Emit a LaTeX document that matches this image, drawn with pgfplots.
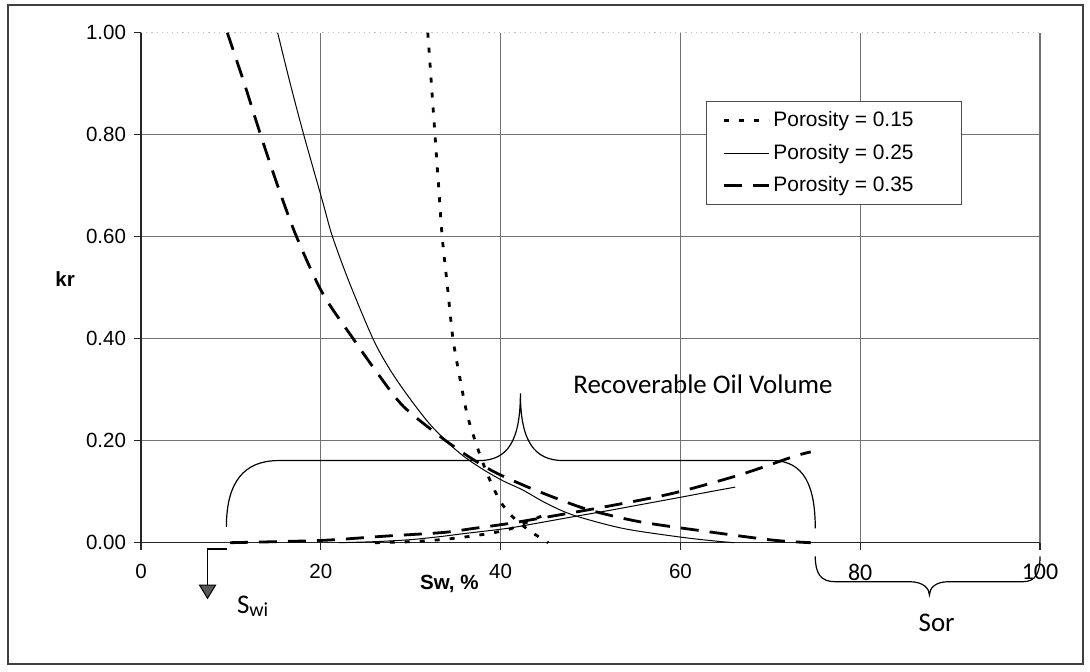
\documentclass[border=0pt]{standalone}
\usepackage{pgfplots}
\pgfplotsset{compat=1.18}
\usepackage{fontspec}
\setmainfont{Liberation Sans}
\newfontfamily\calibri{Carlito}

% oil relative permeability curves (kro) for three porosities
\pgfplotstableread{
x y
31.9 1.000
32.3 0.900
32.7 0.800
33.1 0.700
33.5 0.600
34.1 0.500
34.7 0.400
35.5 0.320
36.3 0.250
37.2 0.198
38.0 0.158
39.0 0.115
40.0 0.080
41.0 0.057
42.0 0.040
43.5 0.020
45.3 0.000
}\kroA
\pgfplotstableread{
x y
15.2 1.000
16.6 0.900
18.1 0.800
20.2 0.669
21.3 0.600
23.2 0.509
25.8 0.400
27.6 0.342
29.6 0.290
32.0 0.235
34.2 0.195
36.0 0.168
38.1 0.143
40.3 0.121
42.5 0.103
45.0 0.078
48.1 0.054
53.6 0.028
60.0 0.011
64.0 0.003
66.0 0.000
}\kroB
\pgfplotstableread{
x y
9.6 1.000
11.5 0.900
13.3 0.800
15.2 0.700
17.3 0.600
20.2 0.489
23.6 0.400
26.4 0.330
29.2 0.267
33.3 0.208
35.5 0.180
37.4 0.158
39.6 0.136
42.9 0.110
46.2 0.087
49.9 0.064
55.5 0.041
62.9 0.022
70.3 0.005
74.5 0.000
}\kroC
% water relative permeability curves (krw)
\pgfplotstableread{
x y
26.0 0.000
30.0 0.002
34.0 0.007
38.0 0.016
40.7 0.025
42.2 0.035
44.0 0.048
45.3 0.058
}\krwA
\pgfplotstableread{
x y
22.0 0.000
26.0 0.002
30.0 0.006
33.3 0.012
36.0 0.018
40.7 0.028
44.0 0.038
48.1 0.051
52.0 0.063
56.0 0.076
60.0 0.089
63.0 0.099
66.1 0.109
}\krwB
\pgfplotstableread{
x y
9.9 0.000
15.0 0.002
20.7 0.005
27.3 0.013
33.6 0.020
37.0 0.028
40.7 0.037
44.4 0.048
51.8 0.071
59.2 0.097
66.6 0.133
72.6 0.169
74.5 0.178
}\krwC

\begin{document}
\begin{tikzpicture}
\begin{axis}[
  scale only axis, width=449.5bp, height=255bp,
  xmin=0, xmax=100, ymin=0, ymax=1,
  clip=false,
  axis lines*=left,
  axis line style={black!85, line width=0.6bp},
  xtick={0,20,40,60,80,100},
  xticklabels={0,20,40,60,{\calibri\fontsize{12}{14}\selectfont 80},{\calibri\fontsize{12}{14}\selectfont 100}},
  ytick={0,0.2,0.4,0.6,0.8},
  yticklabels={0.00,0.20,0.40,0.60,0.80},
  extra y ticks={1}, extra y tick labels={1.00},
  extra y tick style={major grid style={black!25, dotted, line width=0.5bp}},
  xmajorgrids, ymajorgrids,
  major grid style={black!55, line width=0.6bp},
  tick align=outside, major tick length=3.5bp,
  tick style={black!85, line width=0.6bp},
  ticklabel style={font=\fontsize{10.3}{12}\selectfont},
  xticklabel shift=3.5bp, yticklabel shift=0.5bp,
  legend style={at={(rel axis cs:0.6285,0.866)}, anchor=north west,
    draw=black!70, line width=0.6bp, inner xsep=7.8bp, inner ysep=4bp,
    font=\fontsize{10.5}{12.5}\selectfont, row sep=5.2bp,
    nodes={inner xsep=1.7bp, inner ysep=1bp}},
  legend cell align=left,
  legend image code/.code={\draw[#1] (0bp,0bp) -- (22.5bp,0bp);},
]
\addplot[black, line width=1.4bp, dash pattern=on 2.5bp off 5bp, smooth] table {\kroA};
\addlegendentry{Porosity = 0.15\hspace*{14.3bp}}
\addplot[black, line width=0.5bp, smooth] table {\kroB};
\addlegendentry{Porosity = 0.25\hspace*{14.3bp}}
\addplot[black, line width=1.4bp, dash pattern=on 9bp off 5.5bp, smooth] table {\kroC};
\addlegendentry{Porosity = 0.35\hspace*{14.3bp}}
\addplot[black, line width=1.4bp, dash pattern=on 2.5bp off 5bp, smooth, forget plot] table {\krwA};
\addplot[black, line width=0.5bp, smooth, forget plot] table {\krwB};
\addplot[black, line width=1.4bp, dash pattern=on 9bp off 5.5bp, smooth, forget plot] table {\krwC};

% axis titles
\node[anchor=base west, inner sep=0, font=\fontsize{10.3}{12}\selectfont\bfseries]
  at (axis cs:-9.57,0.502) {kr};
\node[anchor=center, inner sep=0, font=\fontsize{10.3}{12}\selectfont\bfseries]
  at (axis cs:34.3,-0.081) {Sw, \%};

% brace spanning the recoverable oil range
\draw[black, line width=0.6bp]
  (axis cs:9.5,0.031) .. controls (axis cs:9.5,0.12) and (axis cs:11.5,0.161) .. (axis cs:15.3,0.161)
  -- (axis cs:37.6,0.161)
  .. controls (axis cs:40.8,0.161) and (axis cs:42.2,0.2) .. (axis cs:42.2,0.293)
  .. controls (axis cs:42.2,0.2) and (axis cs:43.7,0.161) .. (axis cs:47.0,0.161)
  -- (axis cs:70.2,0.161)
  .. controls (axis cs:73.8,0.161) and (axis cs:75.0,0.11) .. (axis cs:75.0,0.028);
\node[anchor=base west, inner sep=0, font=\calibri\fontsize{13.5}{16}\selectfont]
  at (axis cs:48.05,0.293) {Recoverable Oil Volume};

% residual oil brace below the axis
\draw[black, line width=0.6bp]
  (axis cs:75.0,-0.027) .. controls (axis cs:75.0,-0.06) and (axis cs:75.6,-0.0765) .. (axis cs:77.2,-0.0765)
  -- (axis cs:85.5,-0.0765)
  .. controls (axis cs:87.0,-0.0765) and (axis cs:87.7,-0.09) .. (axis cs:87.7,-0.1025)
  .. controls (axis cs:87.7,-0.09) and (axis cs:88.3,-0.0765) .. (axis cs:89.8,-0.0765)
  -- (axis cs:98.1,-0.0765)
  .. controls (axis cs:99.5,-0.0765) and (axis cs:100,-0.06) .. (axis cs:100,-0.027);
\node[anchor=base west, inner sep=0, font=\calibri\fontsize{13.5}{16}\selectfont]
  at (axis cs:86.46,-0.1745) {Sor};

% irreducible water saturation marker
\draw[black, line width=0.8bp] (axis cs:9.6,-0.0124) -- (axis cs:7.4,-0.0124) -- (axis cs:7.4,-0.083);
\filldraw[draw=black, fill=black!65, line width=0.5bp]
  (axis cs:6.5,-0.083) -- (axis cs:8.3,-0.083) -- (axis cs:7.4,-0.109) -- cycle;
\node[anchor=base west, inner sep=0, font=\calibri\fontsize{13.5}{16}\selectfont]
  at (axis cs:10.64,-0.1384) {S{\fontsize{10}{12}\selectfont\raisebox{-1.7bp}{wi}}};

% page extent and border
\coordinate (pageLL) at (axis cs:-15.684,-0.2516);
\coordinate (pageUR) at (axis cs:105.56,1.0641);
\coordinate (frLL) at (axis cs:-14.79,-0.2378);
\coordinate (frUR) at (axis cs:104.78,1.0543);
\end{axis}
\path (pageLL) rectangle (pageUR);
\draw[black!75, line width=1bp] (frLL) rectangle (frUR);
\end{tikzpicture}
\end{document}
